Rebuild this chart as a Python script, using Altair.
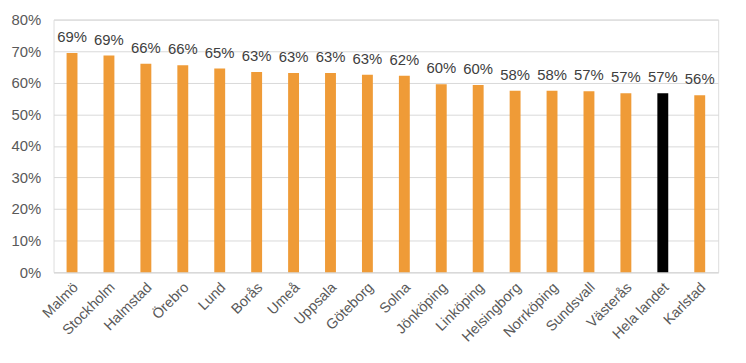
import altair as alt
import pandas as pd

cities = ["Malmö", "Stockholm", "Halmstad", "Örebro", "Lund", "Borås", "Umeå", "Uppsala",
          "Göteborg", "Solna", "Jönköping", "Linköping", "Helsingborg", "Norrköping",
          "Sundsvall", "Västerås", "Hela landet", "Karlstad"]
values = [0.694, 0.686, 0.660, 0.655, 0.645, 0.634, 0.631, 0.631, 0.625, 0.622,
          0.595, 0.593, 0.575, 0.575, 0.573, 0.567, 0.567, 0.560]
labels = ["69%", "69%", "66%", "66%", "65%", "63%", "63%", "63%", "63%", "62%",
          "60%", "60%", "58%", "58%", "57%", "57%", "57%", "56%"]
groups = ["stad"] * 16 + ["land", "stad"]
yticks = [0, 0.1, 0.2, 0.3, 0.4, 0.5, 0.6, 0.7, 0.8]

df = pd.DataFrame({"stad": cities, "andel": values, "etikett": labels, "grupp": groups})

FONT = "Liberation Sans"

x = alt.X("stad:N", sort=cities, title=None,
          scale=alt.Scale(paddingInner=0, paddingOuter=0),
          axis=alt.Axis(labelAngle=-45, labelAlign="right", labelBaseline="middle",
                        labelFontSize=14.5, labelColor="#595959", labelFont=FONT,
                        ticks=False, domain=True, domainColor="#d9d9d9", domainWidth=1.5,
                        labelPadding=13, labelOffset=4, labelOverlap=False))
y = alt.Y("andel:Q", title=None,
          scale=alt.Scale(domain=[0, 0.8], nice=False, zero=True),
          axis=alt.Axis(format=".0%", values=yticks, labelOverlap=False,
                        labelFontSize=15, labelColor="#595959", labelFont=FONT,
                        ticks=False, domain=False, gridColor="#d9d9d9", gridWidth=1,
                        labelPadding=13))

base = alt.Chart(df).encode(x=x, y=y)

bars = base.mark_bar(size=11).encode(
    color=alt.Color("grupp:N", scale=alt.Scale(domain=["stad", "land"],
                                               range=["#EF9B37", "#000000"]), legend=None),
)
text = base.mark_text(baseline="bottom", dy=-8, fontSize=15, color="#404040",
                      font=FONT).encode(text="etikett:N")

chart = (bars + text).properties(
    width=671, height=255,
    autosize=alt.AutoSizeParams(type="none"),
    padding={"left": 46, "top": 10, "right": 20, "bottom": 90},
).configure_view(stroke=None).configure(background="white")

chart.save("out.html", embed_options={"renderer": "svg", "actions": False})
